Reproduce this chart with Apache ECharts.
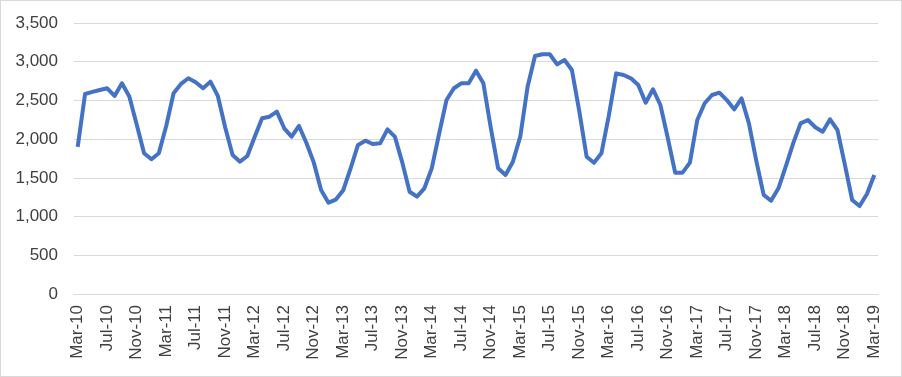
<!DOCTYPE html>
<html>
<head>
<meta charset="utf-8">
<script src="https://cdn.jsdelivr.net/npm/echarts@6/dist/echarts.min.js"></script>
<style>
  html, body { margin: 0; padding: 0; background: #fff; }
  #wrap { width: 902px; height: 377px; box-sizing: border-box; border: 1px solid #d9d9d9; }
  #chart { width: 900px; height: 375px; }
</style>
</head>
<body>
<div id="wrap"><div id="chart"></div></div>
<script>
// months Mar-10 .. Mar-19
const months = ['Jan', 'Feb', 'Mar', 'Apr', 'May', 'Jun', 'Jul', 'Aug', 'Sep', 'Oct', 'Nov', 'Dec'];
const categories = [];
for (let k = 0; k < 109; k++) {
  const m = (2 + k) % 12;
  const y = 10 + Math.floor((2 + k) / 12);
  categories.push(months[m] + '-' + y);
}

const values = [
  1900, 2583, 2610, 2635, 2657, 2558, 2722, 2550, 2190, 1818, 1740, 1818,
  2170, 2593, 2713, 2786, 2735, 2657, 2743, 2558, 2150, 1795, 1709, 1782,
  2030, 2269, 2290, 2355, 2140, 2032, 2170, 1954, 1700, 1343, 1180, 1220,
  1340, 1623, 1925, 1980, 1937, 1946, 2127, 2032, 1700, 1321, 1257, 1365,
  1623, 2070, 2505, 2657, 2721, 2721, 2884, 2721, 2148, 1623, 1537, 1709,
  2032, 2680, 3074, 3096, 3096, 2966, 3022, 2893, 2363, 1773, 1696, 1817,
  2300, 2850, 2828, 2785, 2700, 2471, 2644, 2441, 2015, 1567, 1567, 1696,
  2247, 2463, 2570, 2600, 2505, 2385, 2527, 2204, 1718, 1280, 1205, 1365,
  1649, 1946, 2204, 2247, 2153, 2096, 2256, 2118, 1675, 1214, 1136, 1291,
  1537
];

const chart = echarts.init(document.getElementById('chart'));

chart.setOption({
  animation: false,
  grid: { left: 73, right: 23, top: 22, bottom: 82 },
  xAxis: {
    type: 'category',
    data: categories,
    boundaryGap: true,
    axisLine: { lineStyle: { color: '#d9d9d9', width: 1 } },
    axisTick: { interval: 3, length: 5, lineStyle: { color: '#d9d9d9' } },
    axisLabel: {
      interval: 3,
      rotate: 90,
      margin: 11,
      color: '#404040',
      fontFamily: 'Liberation Sans, Arial, sans-serif',
      fontSize: 17
    }
  },
  yAxis: {
    type: 'value',
    min: 0,
    max: 3500,
    interval: 500,
    axisLine: { show: false },
    axisTick: { show: false },
    splitLine: { lineStyle: { color: '#d9d9d9', width: 1 } },
    axisLabel: {
      margin: 16,
      color: '#404040',
      fontFamily: 'Liberation Sans, Arial, sans-serif',
      fontSize: 17,
      formatter: v => v.toLocaleString('en-US')
    }
  },
  series: [{
    type: 'line',
    data: values,
    symbol: 'none',
    lineStyle: { color: '#4472c4', width: 4, join: 'round' }
  }]
});
</script>
</body>
</html>
